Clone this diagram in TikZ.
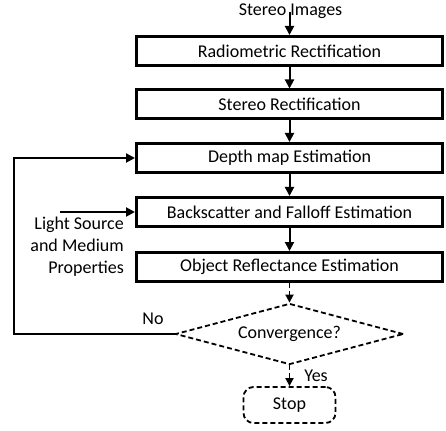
\documentclass[tikz,border=0pt]{standalone}
\usepackage{fontspec}
\setmainfont{Carlito}
\usetikzlibrary{arrows.meta,shapes.geometric}
\begin{document}
\begin{tikzpicture}[x=1pt,y=-1pt,
  every node/.style={font=\fontsize{18}{22}\selectfont, inner sep=0pt},
  procbox/.style={draw, line width=3pt, minimum width=306pt, minimum height=29pt},
  conn/.style={line width=2pt, -{Triangle[length=9pt,width=9pt]}},
  dconn/.style={line width=1.8pt, dash pattern=on 5pt off 3pt, -{Triangle[length=8pt,width=8pt]}},
  dshape/.style={draw, line width=1.8pt, dash pattern=on 5pt off 3pt}]
\useasboundingbox (0,0) rectangle (446,430);
\node[anchor=base] (si) at (290.5,15.5) {Stereo Images};
\coordinate (sitop) at (289.5,12);
\node[procbox] (b1) at (289.5,51) {Radiometric Rectification};
\node[procbox] (b2) at (289.5,104.5) {Stereo Rectification};
\node[procbox] (b3) at (289.5,158) {Depth map Estimation};
\node[procbox] (b4) at (289.5,212) {Backscatter and Falloff Estimation};
\node[procbox] (b5) at (289.5,267) {Object Reflectance Estimation};
\node[diamond, dshape, shape aspect=3.7, minimum width=228pt, minimum height=61pt] (dia) at (289.5,334) {Convergence?};
\node[dshape, rounded corners=10pt, minimum width=92pt, minimum height=36pt] (stop) at (289.5,405) {Stop};
\node[anchor=east, align=right] (ls) at (124,247) {Light Source\\and Medium\\Properties};
\coordinate (lsin) at (60,212);
\coordinate (fb) at (14,334);
\node (no) at (153,319) {No};
\node (yes) at (316,376) {Yes};
\draw[conn] (sitop) -- (b1.north);
\draw[conn] (b1) -- (b2);
\draw[conn] (b2) -- (b3);
\draw[conn] (b3) -- (b4);
\draw[conn] (b4) -- (b5);
\draw[dconn] (b5.south) -- (dia.north);
\draw[dconn] (dia.south) -- (stop.north);
\draw[conn] (lsin) -- (b4.west);
\draw[conn] (dia.west) -- (fb) |- (b3.west);
\end{tikzpicture}
\end{document}
